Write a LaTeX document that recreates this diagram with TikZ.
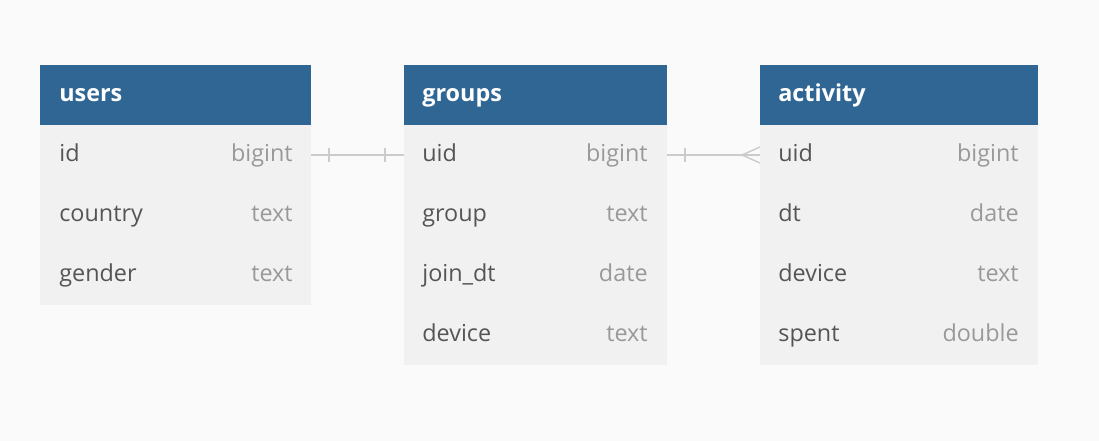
\documentclass[tikz,border=0pt]{standalone}
\usepackage{fontspec}
\setmainfont{Open Sans}
\usetikzlibrary{positioning}
\definecolor{hdblue}{HTML}{2F6694}
\definecolor{rowgray}{HTML}{F1F1F1}
\definecolor{namegray}{HTML}{555555}
\definecolor{typegray}{HTML}{999999}
\definecolor{linkgray}{HTML}{CCCCCC}
\definecolor{bggray}{HTML}{FAFAFA}

\begin{document}
\begin{tikzpicture}[
    x=0.2mm, y=-0.2mm,
    node distance=0pt,
    tbl/.style={draw=none, rectangle, minimum height=12mm, inner sep=0pt, outer sep=0pt},
    header/.style={tbl, fill=hdblue},
    row/.style={tbl, fill=rowgray},
    title/.style={font=\fontsize{13.3}{16}\selectfont\bfseries, text=white, inner sep=0pt, text height=7.2pt, text depth=0pt},
    field/.style={font=\fontsize{13.3}{16}\selectfont, text=namegray, inner sep=0pt, text height=7.1pt, text depth=0pt},
    ftype/.style={font=\fontsize{13.3}{16}\selectfont, text=typegray, inner sep=0pt, text height=7.1pt, text depth=0pt},
    link/.style={draw=linkgray, line width=0.8pt},
]
\fill[bggray] (0,0) rectangle (1099,441);

% users
\node[header, minimum width=54.2mm] (users-h) at (175.5,95) {};
\node[row, minimum width=54.2mm, below=of users-h] (users-id) {};
\node[row, minimum width=54.2mm, below=of users-id] (users-country) {};
\node[row, minimum width=54.2mm, below=of users-country] (users-gender) {};
\node[title, right=3.8mm of users-h.west] {users};
\node[field, right=3.8mm of users-id.west] {id};
\node[ftype, left=3.6mm of users-id.east] {bigint};
\node[field, right=3.8mm of users-country.west] {country};
\node[ftype, left=3.6mm of users-country.east] {text};
\node[field, right=3.8mm of users-gender.west] {gender};
\node[ftype, left=3.6mm of users-gender.east] {text};

% groups
\node[header, minimum width=52.6mm] (groups-h) at (535.5,95) {};
\node[row, minimum width=52.6mm, below=of groups-h] (groups-uid) {};
\node[row, minimum width=52.6mm, below=of groups-uid] (groups-group) {};
\node[row, minimum width=52.6mm, below=of groups-group] (groups-join) {};
\node[row, minimum width=52.6mm, below=of groups-join] (groups-device) {};
\node[title, right=3.6mm of groups-h.west] {groups};
\node[field, right=3.6mm of groups-uid.west] {uid};
\node[ftype, left=3.8mm of groups-uid.east] {bigint};
\node[field, right=3.6mm of groups-group.west] {group};
\node[ftype, left=3.8mm of groups-group.east] {text};
\node[field, right=3.6mm of groups-join.west] {join\_dt};
\node[ftype, left=3.8mm of groups-join.east] {date};
\node[field, right=3.6mm of groups-device.west] {device};
\node[ftype, left=3.8mm of groups-device.east] {text};

% activity
\node[header, minimum width=55.6mm] (activity-h) at (899,95) {};
\node[row, minimum width=55.6mm, below=of activity-h] (activity-uid) {};
\node[row, minimum width=55.6mm, below=of activity-uid] (activity-dt) {};
\node[row, minimum width=55.6mm, below=of activity-dt] (activity-device) {};
\node[row, minimum width=55.6mm, below=of activity-device] (activity-spent) {};
\node[title, right=3.6mm of activity-h.west] {activity};
\node[field, right=3.6mm of activity-uid.west] {uid};
\node[ftype, left=3.8mm of activity-uid.east] {bigint};
\node[field, right=3.6mm of activity-dt.west] {dt};
\node[ftype, left=3.8mm of activity-dt.east] {date};
\node[field, right=3.6mm of activity-device.west] {device};
\node[ftype, left=3.8mm of activity-device.east] {text};
\node[field, right=3.6mm of activity-spent.west] {spent};
\node[ftype, left=3.8mm of activity-spent.east] {double};

% users.id -- groups.uid (one to one)
\draw[link] (users-id.east) -- (groups-uid.west);
\draw[link] ([xshift=3.6mm, yshift=1.4mm]users-id.east) -- ([xshift=3.6mm, yshift=-1.4mm]users-id.east);
\draw[link] ([xshift=-3.8mm, yshift=1.4mm]groups-uid.west) -- ([xshift=-3.8mm, yshift=-1.4mm]groups-uid.west);

% groups.uid -- activity.uid (one to many)
\draw[link] (groups-uid.east) -- (activity-uid.west);
\draw[link] ([xshift=3.6mm, yshift=1.4mm]groups-uid.east) -- ([xshift=3.6mm, yshift=-1.4mm]groups-uid.east);
\draw[link] ([yshift=1.6mm]activity-uid.west) -- ([xshift=-3.6mm]activity-uid.west) -- ([yshift=-1.6mm]activity-uid.west);
\end{tikzpicture}
\end{document}
